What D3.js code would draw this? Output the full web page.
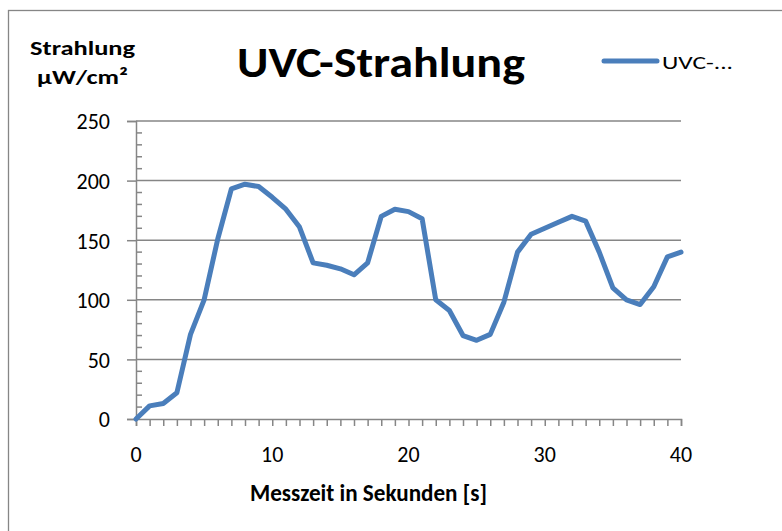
<!DOCTYPE html>
<html><head><meta charset="utf-8">
<script src="https://cdn.jsdelivr.net/npm/d3@7"></script>
<style>body{margin:0;background:#fff}svg{display:block}</style>
</head><body>
<svg id="c" width="782" height="531"></svg>
<script>
const seconds = d3.range(0, 41);
const uvc = [0, 11, 13, 22, 71, 100, 151, 193, 197, 195, 186, 176, 161, 131, 129, 126, 121, 131, 170, 176, 174, 168, 100, 91, 70, 66, 71, 98, 140, 155, 160, 165, 170, 166, 140, 110, 100, 96, 111, 136, 140];
const yTicks = [0, 50, 100, 150, 200, 250];
const xTicks = [0, 10, 20, 30, 40];
const title = "UVC-Strahlung";
const yTitle = ["Strahlung", "µW/cm²"];
const xTitle = "Messzeit in Sekunden [s]";
const legendLabel = "UVC-...";

const font = "Carlito, Calibri, Lato, sans-serif";
const svg = d3.select("#c");
const grey = "#868686";
const blue = "#4a7ebb";

svg.append("rect").attr("x", 8.5).attr("y", 10.5).attr("width", 800).attr("height", 600)
  .attr("fill", "#fff").attr("stroke", grey).attr("stroke-width", 1.3);

const L = 136, R = 681, T = 121, B = 419;
const x = d3.scaleLinear().domain([0, 40]).range([L, R]);
const y = d3.scaleLinear().domain([0, 250]).range([B, T]);

// gridlines
svg.append("g").selectAll("line").data(yTicks.filter(d => d > 0)).join("line")
  .attr("x1", L).attr("x2", R).attr("y1", d => y(d)).attr("y2", d => y(d))
  .attr("stroke", grey).attr("stroke-width", 1.5);

// y axis
const yAx = svg.append("g").attr("transform", `translate(${L},0)`)
  .call(d3.axisLeft(y).tickValues(yTicks).tickSize(9).tickPadding(17).tickFormat(d3.format("d")));
yAx.select(".domain").attr("stroke", grey).attr("stroke-width", 1.5);
yAx.selectAll(".tick line").attr("stroke", grey).attr("stroke-width", 1.5);
yAx.selectAll("text").attr("font-family", font).attr("font-size", 22).attr("fill", "#000").attr("dy", "0.36em");
// minor ticks
svg.append("g").selectAll("line").data(d3.range(0, 251, 10).filter(d => d % 50 !== 0)).join("line")
  .attr("x1", L).attr("x2", L + 6).attr("y1", d => y(d)).attr("y2", d => y(d))
  .attr("stroke", grey).attr("stroke-width", 1.5);

// x axis
const xAx = svg.append("g").attr("transform", `translate(0,${B})`)
  .call(d3.axisBottom(x).tickValues(seconds).tickSize(7).tickPadding(4).tickFormat(""));
xAx.select(".domain").attr("stroke", grey).attr("stroke-width", 1.5);
xAx.selectAll(".tick line").attr("stroke", grey).attr("stroke-width", 1.5);
svg.append("g").selectAll("text").data(xTicks).join("text")
  .attr("x", d => x(d)).attr("y", 462).attr("text-anchor", "middle")
  .attr("font-family", font).attr("font-size", 22).text(d => d);

// line
svg.append("path").datum(uvc)
  .attr("fill", "none").attr("stroke", blue).attr("stroke-width", 5)
  .attr("stroke-linejoin", "round").attr("stroke-linecap", "round")
  .attr("d", d3.line().x((d, i) => x(seconds[i])).y(d => y(d)));

// title
svg.append("text").attr("x", 237).attr("y", 77)
  .attr("font-family", font).attr("font-weight", "bold").attr("font-size", 42)
  .attr("textLength", 288).attr("lengthAdjust", "spacingAndGlyphs").text(title);

// y title
const yt = [{x: 30, y: 55, w: 105}, {x: 37, y: 84, w: 91}];
svg.append("g").selectAll("text").data(yTitle).join("text")
  .attr("x", (d, i) => yt[i].x).attr("y", (d, i) => yt[i].y)
  .attr("textLength", (d, i) => yt[i].w).attr("lengthAdjust", "spacingAndGlyphs")
  .attr("font-family", font).attr("font-weight", "bold").attr("font-size", 21).text(d => d);

// x title
svg.append("text").attr("x", 250).attr("y", 501)
  .attr("textLength", 237).attr("lengthAdjust", "spacingAndGlyphs")
  .attr("font-family", font).attr("font-weight", "bold").attr("font-size", 24).text(xTitle);

// legend
svg.append("line").attr("x1", 604).attr("x2", 657).attr("y1", 61).attr("y2", 61)
  .attr("stroke", blue).attr("stroke-width", 5).attr("stroke-linecap", "round");
svg.append("text").attr("x", 662).attr("y", 69).attr("font-family", font)
  .attr("textLength", 71).attr("lengthAdjust", "spacingAndGlyphs")
  .attr("font-size", 19).text(legendLabel);
</script>
</body></html>
